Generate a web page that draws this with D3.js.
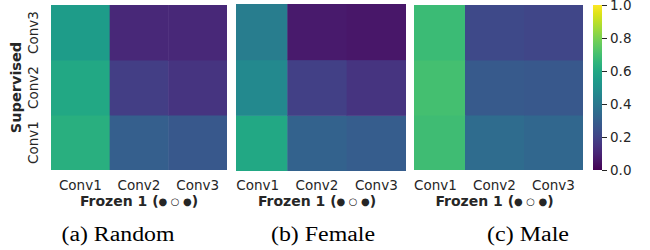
<!DOCTYPE html>
<html>
<head>
<meta charset="utf-8">
<script src="https://cdn.jsdelivr.net/npm/d3@7"></script>
<style>
  body { margin: 0; background: #fff; }
</style>
</head>
<body>
<div id="chart"></div>
<script>
// layers of the supervised net (rows) and of the frozen net (columns)
var rowLabels = ["Conv1", "Conv2", "Conv3"];
var colLabels = ["Conv1", "Conv2", "Conv3"];

// rows listed Conv1, Conv2, Conv3; columns Conv1, Conv2, Conv3
var randomVals = [
    [0.63, 0.30, 0.27],
    [0.60, 0.18, 0.15],
    [0.55, 0.11, 0.11]
];
var femaleVals = [
    [0.60, 0.31, 0.29],
    [0.47, 0.19, 0.15],
    [0.42, 0.07, 0.06]
];
var maleVals = [
    [0.69, 0.35, 0.33],
    [0.70, 0.28, 0.27],
    [0.68, 0.22, 0.21]
];

var captions = ["(a) Random", "(b) Female", "(c) Male"];
var colorTicks = [0, 0.2, 0.4, 0.6, 0.8, 1.0];

var svg = d3.select("#chart").append("svg")
    .attr("width", 650)
    .attr("height", 250)
    .style("font-family", "DejaVu Sans, sans-serif");

var color = d3.scaleSequential(d3.interpolateViridis).domain([0, 1]);

// left = uncropped left edge, clipLeft = visible left edge
var panels = [
    {vals: randomVals, left: 51, right: 227, clipLeft: 51, top: 5, bottom: 170, capX: 118, capW: 113},
    {vals: femaleVals, left: 228, right: 406, clipLeft: 236, top: 4, bottom: 171, capX: 323, capW: 104},
    {vals: maleVals, left: 406, right: 583, clipLeft: 414, top: 5, bottom: 170, capX: 528, capW: 82}
];

var tickColor = "#262626";

panels.forEach(function (p, pi) {
    var x = d3.scaleBand().domain(colLabels).range([p.left, p.right]);
    var y = d3.scaleBand().domain(rowLabels.slice().reverse()).range([p.top, p.bottom]);

    var cells = [];
    p.vals.forEach(function (row, ri) {
        row.forEach(function (v, ci) {
            cells.push({row: rowLabels[ri], col: colLabels[ci], v: v});
        });
    });

    svg.append("clipPath")
        .attr("id", "clip" + pi)
        .append("rect")
        .attr("x", p.clipLeft)
        .attr("y", p.top)
        .attr("width", p.right - p.clipLeft)
        .attr("height", p.bottom - p.top);

    svg.append("g")
        .attr("clip-path", "url(#clip" + pi + ")")
        .selectAll("rect")
        .data(cells)
        .enter().append("rect")
        .attr("x", function (d) { return x(d.col); })
        .attr("y", function (d) { return y(d.row); })
        .attr("width", x.bandwidth() + 0.5)
        .attr("height", y.bandwidth() + 0.5)
        .attr("fill", function (d) { return color(d.v); });

    // x tick labels
    var xAxis = svg.append("g")
        .attr("transform", "translate(0," + p.bottom + ")")
        .call(d3.axisBottom(x).tickSize(0));
    xAxis.select(".domain").remove();
    xAxis.selectAll("text")
        .attr("y", 190 - p.bottom)
        .attr("dy", 0)
        .style("font-size", "13.5px")
        .style("font-family", "DejaVu Sans")
        .attr("fill", tickColor);

    var frozen = svg.append("text")
        .attr("x", (p.right + p.left) / 2)
        .attr("y", 206)
        .attr("text-anchor", "middle")
        .style("font-size", "14px")
        .style("font-weight", "bold")
        .attr("fill", tickColor);
    frozen.append("tspan").text("Frozen 1 (");
    frozen.append("tspan").style("font-size", "10px").attr("dy", -1).text("\u25CF \u25CB \u25CF");
    frozen.append("tspan").attr("dy", 1).text(")");

    if (pi == 0) {
        var yAxis = svg.append("g")
            .attr("transform", "translate(" + p.left + ",0)")
            .call(d3.axisLeft(y).tickSize(0));
        yAxis.select(".domain").remove();
        yAxis.selectAll("text")
            .attr("x", 0)
            .attr("dy", 0)
            .attr("text-anchor", "middle")
            .attr("transform", "translate(-13,0) rotate(-90)")
            .style("font-size", "13.5px")
            .style("font-family", "DejaVu Sans")
            .attr("fill", tickColor);

        svg.append("text")
            .attr("transform", "translate(21," + (p.top + p.bottom) / 2 + ") rotate(-90)")
            .attr("text-anchor", "middle")
            .style("font-size", "14.5px")
            .style("font-weight", "bold")
            .attr("fill", tickColor)
            .text("Supervised");
    }

    svg.append("text")
        .attr("x", p.capX)
        .attr("y", 241)
        .attr("text-anchor", "middle")
        .attr("textLength", p.capW)
        .attr("lengthAdjust", "spacingAndGlyphs")
        .style("font-family", "Liberation Serif, serif")
        .style("font-size", "20.5px")
        .attr("fill", "#000")
        .text(captions[pi]);
});

// colorbar
var cbX = 593, cbW = 9, cbTop = 5, cbBottom = 170;
var defs = svg.append("defs");
var grad = defs.append("linearGradient")
    .attr("id", "viridisGrad")
    .attr("x1", 0).attr("y1", 1).attr("x2", 0).attr("y2", 0);
d3.range(0, 1.0001, 0.05).forEach(function (t) {
    grad.append("stop")
        .attr("offset", t)
        .attr("stop-color", color(t));
});
svg.append("rect")
    .attr("x", cbX)
    .attr("y", cbTop)
    .attr("width", cbW)
    .attr("height", cbBottom - cbTop)
    .attr("fill", "url(#viridisGrad)");

var cbScale = d3.scaleLinear().domain([0, 1]).range([cbBottom, cbTop]);
var cbAxis = svg.append("g")
    .attr("transform", "translate(" + (cbX + cbW) + ",0)")
    .call(d3.axisRight(cbScale).tickValues(colorTicks).tickFormat(d3.format(".1f")).tickSize(5).tickPadding(3));
cbAxis.select(".domain").remove();
cbAxis.selectAll("line").attr("stroke", tickColor).attr("stroke-width", 1);
cbAxis.selectAll("text")
    .style("font-size", "13.5px")
    .style("font-family", "DejaVu Sans")
    .attr("fill", tickColor);
</script>
</body>
</html>
